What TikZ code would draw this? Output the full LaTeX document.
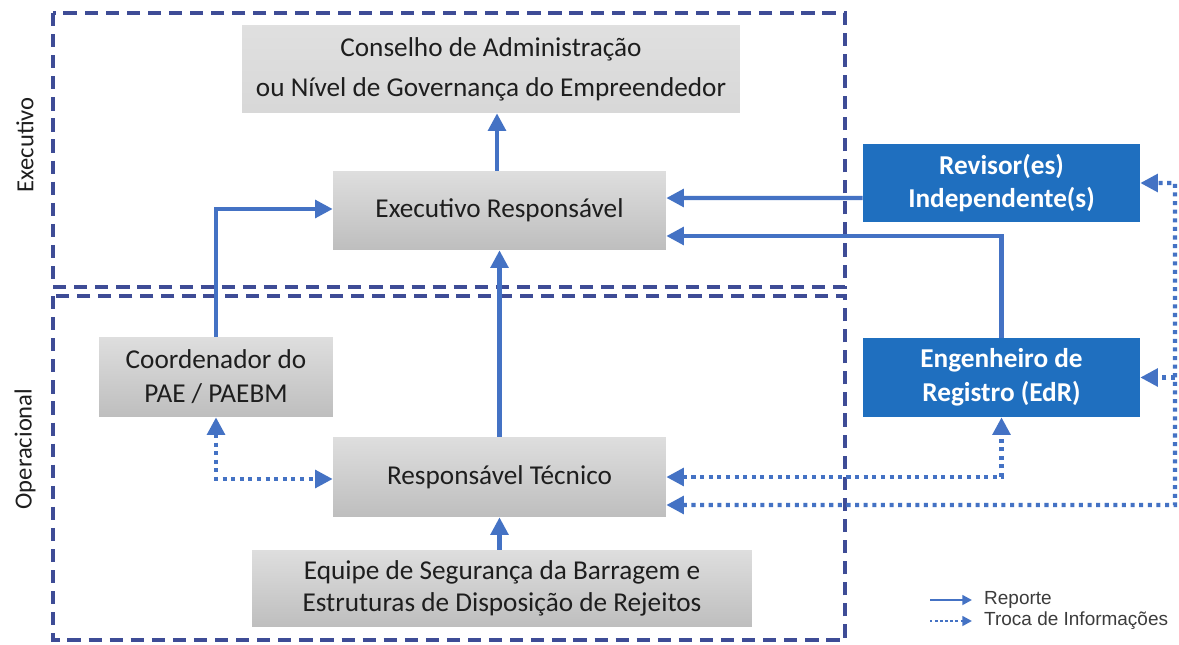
\documentclass[tikz,border=0pt]{standalone}
\usepackage{fontspec}
\setmainfont{Carlito}
\newfontfamily\legfont{Liberation Sans}
\usetikzlibrary{arrows.meta,calc}
\definecolor{arrowblue}{RGB}{68,114,196}
\definecolor{frameblue}{RGB}{62,76,150}
\definecolor{boxblue}{RGB}{31,111,191}
\definecolor{boxtext}{RGB}{30,30,30}
\definecolor{legtextc}{RGB}{60,60,60}
\definecolor{greytop}{RGB}{222,222,222}
\definecolor{greybot}{RGB}{190,190,190}
\tikzset{
  greybox/.style={rectangle, top color=greytop, bottom color=greybot, draw=none,
    text=boxtext, align=center, inner sep=0pt,
    font=\fontsize{15.5}{19.3}\selectfont},
  bluebox/.style={rectangle, fill=boxblue, draw=none, text=white, align=center,
    inner sep=0pt, font=\bfseries\fontsize{15.5}{19.3}\selectfont},
  frame/.style={draw=frameblue, line width=2pt, dash pattern=on 7.5pt off 4.5pt},
  report/.style={draw=arrowblue, line width=2.3pt, -{Triangle[length=10pt,width=10pt]}},
  info/.style={draw=arrowblue, line width=2.3pt, dash pattern=on 2.3pt off 2.6pt,
    {Triangle[length=10pt,width=10pt]}-{Triangle[length=10pt,width=10pt]}},
  infoone/.style={draw=arrowblue, line width=2.3pt, dash pattern=on 2.3pt off 2.6pt,
    -{Triangle[length=10pt,width=10pt]}},
  sidelabel/.style={rotate=90, text=boxtext, font=\fontsize{14}{16}\selectfont},
  legtext/.style={anchor=west, text=legtextc, font=\legfont\fontsize{10.8}{12}\selectfont}
}
\begin{document}
\begin{tikzpicture}[x=0.02cm,y=-0.02cm]
\useasboundingbox (0,0) rectangle (1179,645);
\fill[white] (0,0) rectangle (1179,645);

% frames
\draw[frame] (53,13) rectangle (845,287);
\draw[frame] (53,296) rectangle (845,640);
\node[sidelabel] (lexe) at (25,145) {Executivo};
\node[sidelabel] (lope) at (25,449) {Operacional};

% boxes
\node[greybox, minimum width=9.96cm, minimum height=1.76cm,
  top color=greytop!95!white, bottom color=greytop!80!greybot,
  font=\fontsize{15.5}{22.7}\selectfont] (cons) at (491,69)
  {Conselho de Administração\\ou Nível de Governança do Empreendedor};
\node[greybox, minimum width=6.66cm, minimum height=1.58cm] (exec) at (499.5,210.5)
  {Executivo Responsável};
\node[bluebox, minimum width=5.54cm, minimum height=1.56cm] (rev) at (1001.5,183)
  {Revisor(es)\\Independente(s)};
\node[bluebox, minimum width=5.54cm, minimum height=1.58cm] (eng) at (1001.5,377.5)
  {Engenheiro de\\Registro (EdR)};
\node[greybox, minimum width=4.68cm, minimum height=1.6cm] (coord) at (216,377)
  {Coordenador do\\PAE / PAEBM};
\node[greybox, minimum width=6.66cm, minimum height=1.6cm] (tec) at (499.5,477)
  {Responsável Técnico};
\node[greybox, minimum width=10cm, minimum height=1.54cm,
  font=\fontsize{15.5}{18}\selectfont] (equipe) at (502,588.5)
  {Equipe de Segurança da Barragem e\\Estruturas de Disposição de Rejeitos};

% reporting arrows
\draw[report] ([xshift=-0.05cm]exec.north) -- ([xshift=-0.05cm]exec.north |- cons.south);
\draw[report] (tec.north) -- (exec.south);
\draw[report] (tec.south |- equipe.north) -- (tec.south);
\draw[report] (coord.north) |- ([yshift=0.03cm]exec.west);
\draw[report] ([yshift=-0.3cm]rev.west) -- ([yshift=0.25cm]exec.east);
\draw[report] (eng.north) |- ([yshift=-0.51cm]exec.east);

% information exchange
\coordinate (rc) at (1175,505);
\draw[info] (coord.south) |- ([yshift=-0.04cm]tec.west);
\draw[info] (tec.east) -| (eng.south);
\draw[info] ([yshift=-0.56cm]tec.east) -- (rc) |- (rev.east);
\draw[infoone] (eng.east -| rc) -- (eng.east);

% legend
\coordinate (la1) at (930,600);
\coordinate (la2) at (972,600);
\coordinate (lb1) at (930,621);
\coordinate (lb2) at (972,621);
\draw[draw=arrowblue, line width=1.4pt, -{Triangle[length=5.5pt,width=5.5pt]}] (la1) -- (la2);
\draw[draw=arrowblue, line width=1.4pt, dash pattern=on 1.4pt off 1.5pt, -{Triangle[length=5.5pt,width=5.5pt]}] (lb1) -- (lb2);
\node[legtext] (lega) at (978,600) {Reporte};
\node[legtext] (legb) at (978,621) {Troca de Informações};
\end{tikzpicture}
\end{document}
